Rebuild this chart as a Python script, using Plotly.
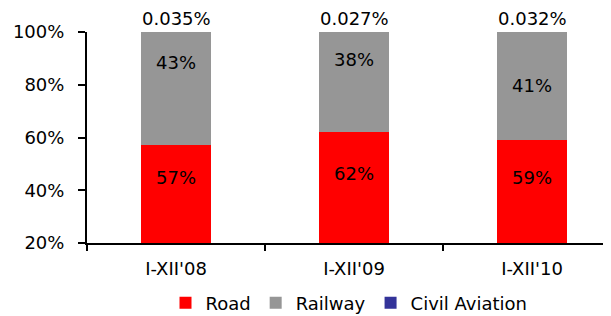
import plotly.graph_objects as go

categories = ["I-XII'08", "I-XII'09", "I-XII'10"]
road = [57, 62, 59]
railway = [43, 38, 41]
civil_aviation = [0.035, 0.027, 0.032]
y_ticks = [20, 40, 60, 80, 100]
y_tick_labels = ["20%", "40%", "60%", "80%", "100%"]

# label placement (layout, not data)
road_label_y = [44.7, 46.2, 44.7]
railway_label_y = [88.3, 89.4, 79.9]

FONT = "DejaVu Sans, Verdana, sans-serif"
FS = 18
W, H = 603, 308  # page body has 8px margin

fig = go.Figure()
fig.add_trace(go.Bar(x=categories, y=road, name="Road", marker_color="#FF0000",
                     marker_line_width=0))
fig.add_trace(go.Bar(x=categories, y=railway, name="Railway", marker_color="#969696",
                     marker_line_width=0))
fig.add_trace(go.Bar(x=categories, y=civil_aviation, name="Civil Aviation",
                     marker_color="#333399", marker_line_width=0))

annotations = []
for i, c in enumerate(categories):
    annotations.append(dict(x=c, y=road_label_y[i], text=f"{road[i]}%", showarrow=False,
                            font=dict(size=FS, color="black", family=FONT)))
    annotations.append(dict(x=c, y=railway_label_y[i], text=f"{railway[i]}%", showarrow=False,
                            font=dict(size=FS, color="black", family=FONT)))
    annotations.append(dict(x=c, y=road[i] + railway[i], text=f"{civil_aviation[i]}%",
                            showarrow=False, yanchor="bottom", yshift=1,
                            font=dict(size=FS, color="black", family=FONT)))

fig.update_layout(
    template="none",
    barmode="stack",
    bargap=0.612,
    width=W, height=H,
    margin=dict(l=79, r=0, t=24, b=73, autoexpand=False),
    paper_bgcolor="white", plot_bgcolor="white",
    font=dict(family=FONT, size=FS, color="black"),
    showlegend=True,
    legend=dict(orientation="h", x=0.5, xanchor="center", yref="container",
                y=1 - 295 / H, yanchor="middle",
                font=dict(size=FS), itemwidth=30, traceorder="normal",
                tracegroupgap=0),
    annotations=annotations,
    xaxis=dict(range=[-0.5, -0.5 + 524 / 178], showline=True, linecolor="black",
               linewidth=2, ticks="outside", tickson="boundaries", ticklen=6,
               tickcolor="black", tickwidth=1.5, showgrid=False, zeroline=False,
               tickfont=dict(size=FS), automargin=False, ticklabelstandoff=8),
    yaxis=dict(range=[20, 100], tickvals=y_ticks, ticktext=y_tick_labels,
               showline=True, linecolor="black", linewidth=2, ticks="outside",
               ticklen=7, tickcolor="black", tickwidth=1.5, showgrid=False,
               zeroline=False, tickfont=dict(size=FS), automargin=False,
               ticklabelstandoff=10),
)

fig.write_html("out.html")
